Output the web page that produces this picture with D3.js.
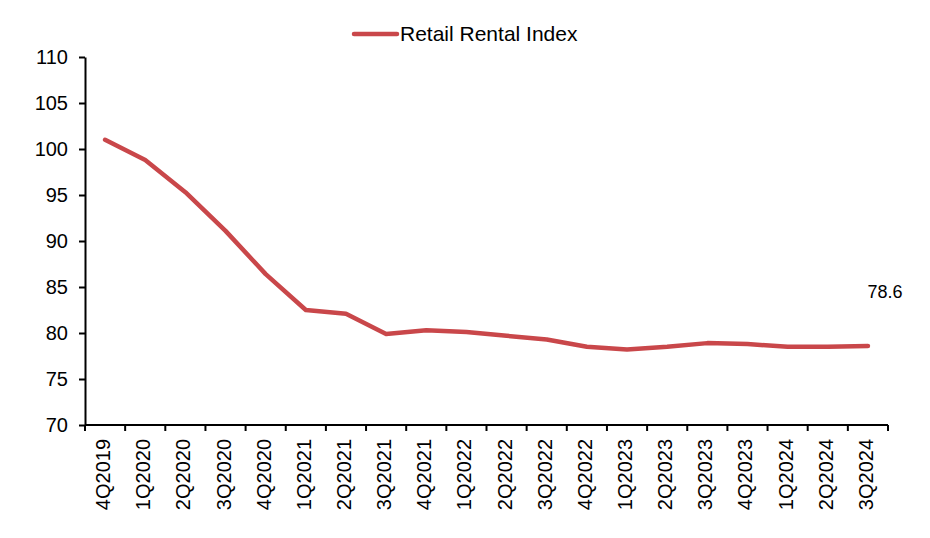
<!DOCTYPE html>
<html>
<head>
<meta charset="utf-8">
<script src="https://cdn.jsdelivr.net/npm/d3@7"></script>
<style>
  body { margin: 0; background: #fff; }
  svg { font-family: "Liberation Sans", Arial, sans-serif; }
</style>
</head>
<body>
<div id="chart"></div>
<script>
var quarters = ["4Q2019","1Q2020","2Q2020","3Q2020","4Q2020","1Q2021","2Q2021","3Q2021","4Q2021","1Q2022",
                "2Q2022","3Q2022","4Q2022","1Q2023","2Q2023","3Q2023","4Q2023","1Q2024","2Q2024","3Q2024"];
var rentalIndex = [101.0, 98.8, 95.3, 91.1, 86.4, 82.5, 82.1, 79.9, 80.3, 80.1,
                   79.7, 79.3, 78.5, 78.2, 78.5, 78.9, 78.8, 78.5, 78.5, 78.6];
var yTicks = [70, 75, 80, 85, 90, 95, 100, 105, 110];
var seriesName = "Retail Rental Index";

var width = 930, height = 538;
var margin = {top: 57, right: 42, bottom: 113, left: 85};

var svg = d3.select("#chart").append("svg")
    .attr("width", width)
    .attr("height", height);

var x = d3.scaleBand()
    .domain(quarters)
    .range([margin.left, width - margin.right]);

var y = d3.scaleLinear()
    .domain([70, 110])
    .range([height - margin.bottom, margin.top]);

// y axis
var yAxis = svg.append("g")
    .attr("transform", "translate(" + margin.left + ",0)")
    .call(d3.axisLeft(y).tickValues(yTicks).tickSize(6).tickSizeOuter(0));
yAxis.select(".domain").attr("stroke", "#000").attr("stroke-width", 2);
yAxis.selectAll(".tick line").attr("stroke", "#000").attr("stroke-width", 2);
yAxis.selectAll("text")
    .attr("x", -17)
    .style("font-size", "20px")
    .style("fill", "#000")
    .style("font-family", "Liberation Sans, Arial, sans-serif");

// x axis, ticks on band edges
var xAxis = svg.append("g")
    .attr("transform", "translate(0," + (height - margin.bottom) + ")");
xAxis.append("line")
    .attr("x1", margin.left).attr("x2", width - margin.right)
    .attr("y1", 0).attr("y2", 0)
    .attr("stroke", "#000").attr("stroke-width", 2);
var edges = quarters.map(function(q) { return x(q); }).concat([x.range()[1]]);
xAxis.selectAll("line.edge")
    .data(edges)
    .enter().append("line")
    .attr("class", "edge")
    .attr("x1", function(d) { return d; })
    .attr("x2", function(d) { return d; })
    .attr("y1", 0).attr("y2", 6)
    .attr("stroke", "#000").attr("stroke-width", 2);
xAxis.selectAll("text.qlabel")
    .data(quarters)
    .enter().append("text")
    .attr("class", "qlabel")
    .attr("transform", function(d) {
        return "translate(" + (x(d) + x.bandwidth() / 2 + 5) + ",14) rotate(-90)";
    })
    .attr("text-anchor", "end")
    .style("font-size", "20px")
    .style("fill", "#000")
    .text(function(d) { return d; });

// line
var line = d3.line()
    .x(function(d, i) { return x(quarters[i]) + x.bandwidth() / 2; })
    .y(function(d) { return y(d); });

svg.append("path")
    .datum(rentalIndex)
    .attr("d", line)
    .attr("fill", "none")
    .attr("stroke", "#c9474a")
    .attr("stroke-width", 4.5)
    .attr("stroke-linejoin", "round")
    .attr("stroke-linecap", "round");

// last value label
var last = rentalIndex.length - 1;
svg.append("text")
    .attr("x", x(quarters[last]) + x.bandwidth() / 2 + 17)
    .attr("y", 298)
    .attr("text-anchor", "middle")
    .style("font-size", "18px")
    .style("fill", "#000")
    .text(rentalIndex[last].toFixed(1));

// legend
var legend = svg.append("g").attr("transform", "translate(354,34)");
legend.append("line")
    .attr("x1", 0).attr("x2", 43)
    .attr("y1", 0).attr("y2", 0)
    .attr("stroke", "#c9474a")
    .attr("stroke-width", 4.5)
    .attr("stroke-linecap", "round");
legend.append("text")
    .attr("x", 46)
    .attr("y", 7)
    .style("font-size", "21px")
    .style("fill", "#000")
    .text(seriesName);
</script>
</body>
</html>
